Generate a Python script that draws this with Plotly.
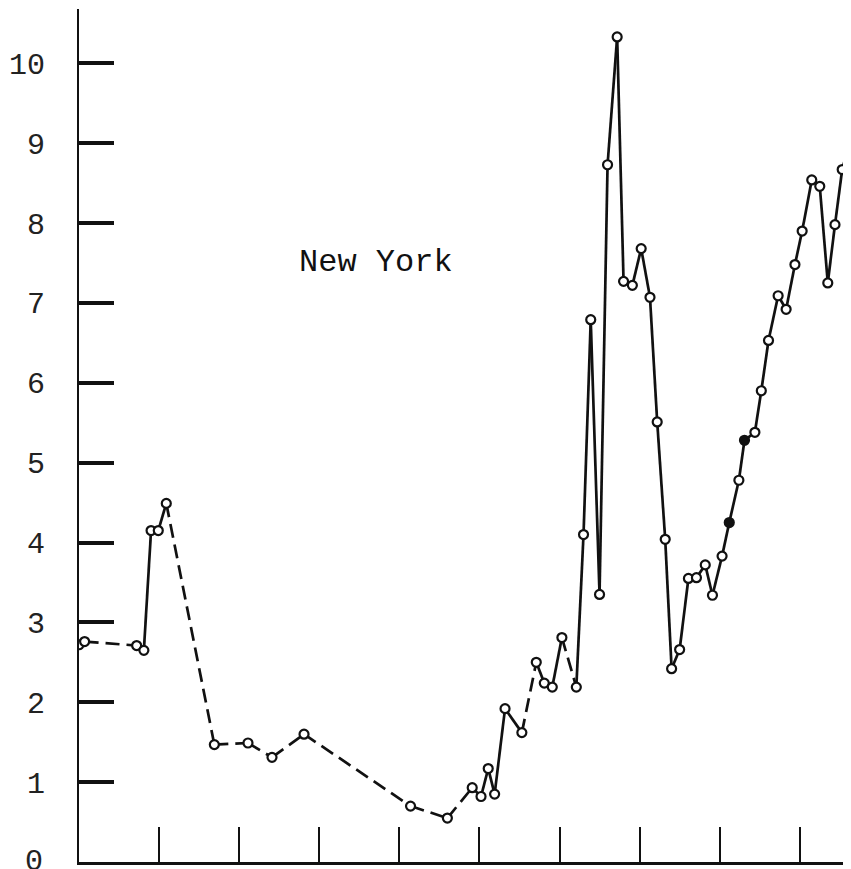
import plotly.graph_objects as go

# readings (x in axis-tick units, y in axis units)
x_vals = [0.00, 0.07, 0.72, 0.81, 0.90, 0.99, 1.09, 1.69, 2.11, 2.41, 2.81,
          4.14, 4.60, 4.91, 5.02, 5.11, 5.19, 5.32, 5.53, 5.71, 5.81, 5.91,
          6.03, 6.21, 6.30, 6.39, 6.50, 6.60, 6.72, 6.80, 6.91, 7.02, 7.13,
          7.22, 7.32, 7.40, 7.50, 7.61, 7.71, 7.82, 7.91, 8.03, 8.12, 8.24,
          8.31, 8.44, 8.52, 8.61, 8.73, 8.83, 8.94, 9.03, 9.15, 9.25, 9.35,
          9.44, 9.53, 9.62]
y_vals = [2.72, 2.76, 2.71, 2.65, 4.15, 4.15, 4.49, 1.47, 1.49, 1.31, 1.60,
          0.70, 0.55, 0.93, 0.82, 1.17, 0.85, 1.92, 1.62, 2.50, 2.24, 2.19,
          2.81, 2.19, 4.10, 6.79, 3.35, 8.73, 10.33, 7.27, 7.22, 7.68, 7.07,
          5.51, 4.04, 2.42, 2.66, 3.55, 3.56, 3.72, 3.34, 3.83, 4.25, 4.78,
          5.28, 5.38, 5.90, 6.53, 7.09, 6.92, 7.48, 7.90, 8.54, 8.46, 7.25,
          7.98, 8.67, 9.00]
# segments (point i -> i+1) bridging gaps in the record, drawn dashed
gap_segments = [0, 1, 6, 7, 8, 9, 10, 11, 12, 18, 22]
# points drawn as filled dots
filled_points = [42, 44]

y_tick_vals = list(range(0, 11))
x_tick_vals = list(range(1, 10))
label = "New York"

ink = "#111111"
mono = "Liberation Mono, Courier New, monospace"

solid_x, solid_y, dash_x, dash_y = [], [], [], []
for i in range(len(x_vals) - 1):
    tx, ty = (dash_x, dash_y) if i in gap_segments else (solid_x, solid_y)
    tx += [x_vals[i], x_vals[i + 1], None]
    ty += [y_vals[i], y_vals[i + 1], None]

fig = go.Figure()
fig.add_trace(go.Scatter(x=solid_x, y=solid_y, mode="lines",
                         line=dict(color=ink, width=2.7), hoverinfo="skip"))
fig.add_trace(go.Scatter(x=dash_x, y=dash_y, mode="lines",
                         line=dict(color=ink, width=2.7, dash="14px,7px"),
                         hoverinfo="skip"))
fig.add_trace(go.Scatter(
    x=x_vals, y=y_vals, mode="markers",
    marker=dict(symbol="circle", size=9,
                color=[ink if i in filled_points else "white" for i in range(len(x_vals))],
                line=dict(color=ink, width=2.2)),
))

fig.add_annotation(x=3.71, y=7.5, xref="x", yref="y", text=label, showarrow=False,
                   font=dict(family=mono, size=32, color=ink))

# plotly drops the bottom label (it hangs off the page), so draw "0" by hand
fig.add_annotation(x=-0.0435, y=y_tick_vals[0], xref="paper", yref="y",
                   text=str(y_tick_vals[0]), showarrow=False,
                   xanchor="right", yanchor="middle",
                   font=dict(family=mono, size=30, color="#222222"))

# page body has an 8px margin, so the figure is sized/offset to compensate
fig.update_layout(
    width=843, height=861,
    paper_bgcolor="white", plot_bgcolor="white",
    showlegend=False,
    margin=dict(l=71, r=0, t=1, b=7),
    xaxis=dict(range=[0, 9.64], showgrid=False, zeroline=False,
               showline=True, linecolor=ink, linewidth=3,
               ticks="inside", tickvals=x_tick_vals, ticklen=35, tickwidth=2,
               tickcolor=ink, showticklabels=False),
    yaxis=dict(range=[0, 10.68], showgrid=False, zeroline=False,
               showline=True, linecolor=ink, linewidth=2,
               ticks="inside", tickvals=y_tick_vals[1:], ticklen=35, tickwidth=3.5,
               tickcolor=ink, ticklabelstandoff=26,
               tickfont=dict(family=mono, size=30, color="#222222")),
)

fig.write_html("out.html")
